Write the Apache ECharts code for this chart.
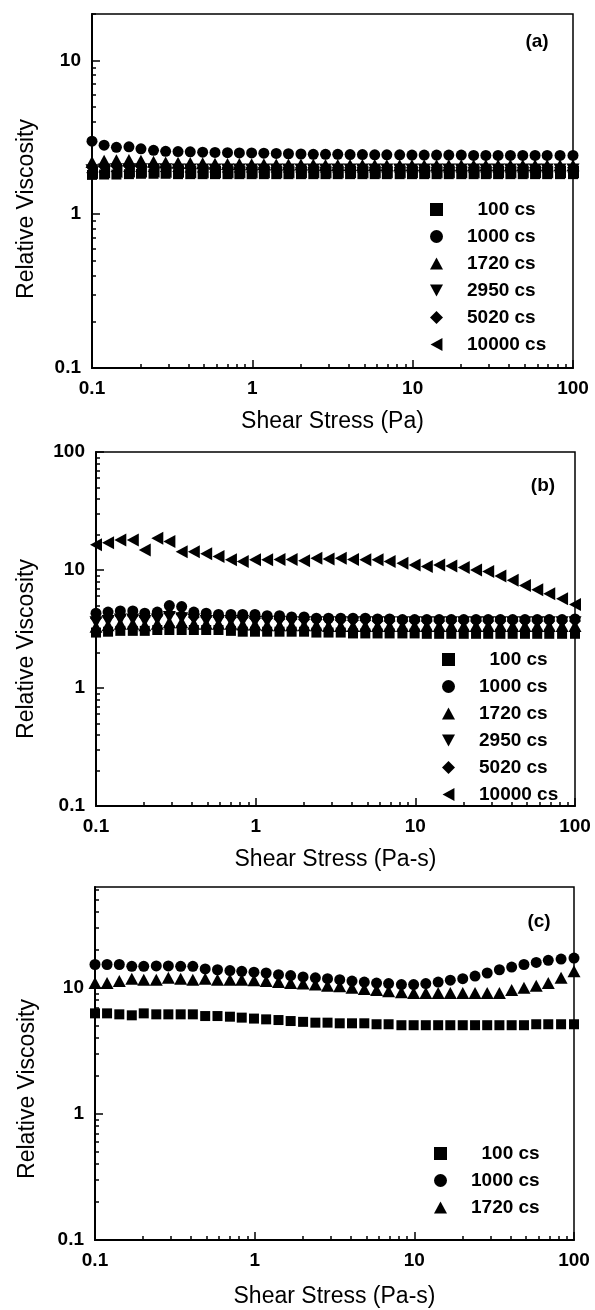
<!DOCTYPE html>
<html>
<head>
<meta charset="utf-8">
<title>Relative viscosity vs shear stress</title>
<script src="https://cdn.jsdelivr.net/npm/echarts@6/dist/echarts.min.js"></script>
<style>
  html, body { margin: 0; padding: 0; background: #fff; }
  #main { width: 595px; height: 1310px; }
</style>
</head>
<body>
<div id="main"></div>
<script>
// shear stress at each measurement point (same for all panels)
var stress = [0.1, 0.119, 0.142, 0.17, 0.202, 0.242, 0.288, 0.344, 0.41, 0.49,
  0.585, 0.70, 0.83, 0.99, 1.18, 1.41, 1.68, 2.01, 2.4, 2.86,
  3.41, 4.07, 4.86, 5.8, 6.9, 8.3, 9.9, 11.8, 14.1, 16.8,
  20.1, 24, 28.6, 34.1, 40.7, 48.6, 58, 69, 83, 100];

var majorTicks = [0.1, 1, 10, 100];
var minorTicks = [0.2, 0.3, 0.4, 0.5, 0.6, 0.7, 0.8, 0.9,
  2, 3, 4, 5, 6, 7, 8, 9, 20, 30, 40, 50, 60, 70, 80, 90];

var namesAB = ['100 cs', '1000 cs', '1720 cs', '2950 cs', '5020 cs', '10000 cs'];
var namesC = ['100 cs', '1000 cs', '1720 cs'];

// panel (a)
var a100 = [1.80, 1.81, 1.81, 1.82, 1.83, 1.83, 1.83, 1.82, 1.82, 1.82,
  1.82, 1.82, 1.82, 1.82, 1.82, 1.82, 1.82, 1.82, 1.82, 1.82,
  1.82, 1.82, 1.82, 1.82, 1.82, 1.82, 1.82, 1.82, 1.82, 1.82,
  1.82, 1.82, 1.82, 1.82, 1.82, 1.82, 1.82, 1.82, 1.82, 1.82];
var a1000 = [2.98, 2.81, 2.72, 2.74, 2.66, 2.60, 2.56, 2.55, 2.54, 2.53,
  2.52, 2.51, 2.50, 2.50, 2.49, 2.48, 2.47, 2.46, 2.45, 2.45,
  2.45, 2.44, 2.44, 2.43, 2.43, 2.43, 2.42, 2.42, 2.42, 2.42,
  2.42, 2.41, 2.41, 2.41, 2.41, 2.41, 2.41, 2.41, 2.41, 2.41];
var a1720 = [2.18, 2.22, 2.24, 2.25, 2.22, 2.19, 2.17, 2.16, 2.15, 2.14,
  2.13, 2.12, 2.12, 2.11, 2.11, 2.10, 2.10, 2.10, 2.10, 2.09,
  2.09, 2.09, 2.09, 2.09, 2.08, 2.08, 2.08, 2.08, 2.08, 2.08,
  2.08, 2.08, 2.08, 2.08, 2.08, 2.08, 2.08, 2.08, 2.08, 2.08];
var a2950 = [1.93, 1.95, 1.96, 1.96, 1.96, 1.96, 1.96, 1.95, 1.95, 1.95,
  1.95, 1.95, 1.95, 1.95, 1.95, 1.95, 1.95, 1.95, 1.95, 1.95,
  1.95, 1.95, 1.95, 1.95, 1.95, 1.95, 1.95, 1.95, 1.95, 1.95,
  1.95, 1.95, 1.95, 1.95, 1.95, 1.95, 1.95, 1.95, 1.95, 1.95];
var a5020 = [2.02, 2.04, 2.05, 2.05, 2.04, 2.03, 2.02, 2.02, 2.01, 2.01,
  2.01, 2.00, 2.00, 2.00, 2.00, 2.00, 2.00, 2.00, 2.00, 2.00,
  2.00, 2.00, 2.00, 2.00, 2.00, 2.00, 2.00, 2.00, 2.00, 2.00,
  2.00, 2.00, 2.00, 2.00, 2.00, 2.00, 2.00, 2.00, 2.00, 2.00];
var a10000 = [1.86, 1.88, 1.89, 1.90, 1.90, 1.90, 1.89, 1.89, 1.88, 1.88,
  1.88, 1.88, 1.88, 1.88, 1.88, 1.88, 1.88, 1.88, 1.88, 1.88,
  1.88, 1.88, 1.88, 1.88, 1.88, 1.88, 1.88, 1.88, 1.88, 1.88,
  1.88, 1.88, 1.88, 1.88, 1.88, 1.88, 1.88, 1.88, 1.88, 1.88];

// panel (b)
var b100 = [2.95, 3.0, 3.05, 3.05, 3.05, 3.1, 3.1, 3.1, 3.1, 3.1,
  3.1, 3.05, 3.0, 3.0, 3.0, 3.0, 3.0, 3.0, 2.95, 2.95,
  2.95, 2.9, 2.9, 2.9, 2.9, 2.9, 2.9, 2.88, 2.88, 2.88,
  2.88, 2.88, 2.88, 2.88, 2.88, 2.88, 2.88, 2.88, 2.88, 2.88];
var b1000 = [4.3, 4.4, 4.5, 4.5, 4.3, 4.4, 5.0, 4.9, 4.4, 4.3,
  4.2, 4.2, 4.2, 4.2, 4.1, 4.1, 4.0, 4.0, 3.9, 3.9,
  3.9, 3.9, 3.9, 3.85, 3.85, 3.8, 3.8, 3.8, 3.8, 3.8,
  3.8, 3.8, 3.8, 3.8, 3.8, 3.8, 3.8, 3.8, 3.8, 3.85];
var b1720 = [3.3, 3.4, 3.5, 3.5, 3.4, 3.5, 3.6, 3.6, 3.5, 3.5,
  3.5, 3.5, 3.45, 3.45, 3.4, 3.4, 3.4, 3.4, 3.4, 3.35,
  3.35, 3.35, 3.35, 3.35, 3.35, 3.35, 3.35, 3.35, 3.35, 3.35,
  3.35, 3.35, 3.35, 3.35, 3.35, 3.35, 3.35, 3.35, 3.35, 3.35];
var b2950 = [3.6, 3.7, 3.8, 3.8, 3.7, 3.8, 4.0, 3.9, 3.8, 3.7,
  3.7, 3.7, 3.7, 3.65, 3.65, 3.65, 3.6, 3.6, 3.6, 3.6,
  3.6, 3.6, 3.6, 3.6, 3.6, 3.6, 3.6, 3.6, 3.6, 3.6,
  3.6, 3.6, 3.6, 3.6, 3.6, 3.6, 3.6, 3.6, 3.6, 3.6];
var b5020 = [3.9, 4.0, 4.1, 4.1, 4.0, 4.1, 4.3, 4.2, 4.0, 4.0,
  4.0, 3.95, 3.95, 3.9, 3.9, 3.85, 3.85, 3.8, 3.8, 3.8,
  3.75, 3.75, 3.75, 3.7, 3.7, 3.7, 3.7, 3.7, 3.7, 3.7,
  3.7, 3.7, 3.7, 3.7, 3.7, 3.7, 3.7, 3.7, 3.7, 3.7];
var b10000 = [16.4, 17.0, 18.0, 18.0, 14.8, 18.6, 17.4, 14.3, 14.3, 13.7,
  13.0, 12.2, 11.8, 12.2, 12.2, 12.3, 12.3, 12.0, 12.6, 12.4,
  12.6, 12.3, 12.2, 12.2, 11.8, 11.4, 11.0, 10.7, 11.0, 10.8,
  10.5, 10.0, 9.7, 8.9, 8.2, 7.4, 6.8, 6.3, 5.7, 5.1];

// panel (c)
var c100 = [6.27, 6.27, 6.16, 6.05, 6.27, 6.16, 6.16, 6.16, 6.16, 5.97,
  5.97, 5.9, 5.8, 5.7, 5.62, 5.55, 5.45, 5.37, 5.29, 5.29,
  5.23, 5.23, 5.23, 5.14, 5.14, 5.05, 5.05, 5.05, 5.05, 5.05,
  5.05, 5.05, 5.05, 5.05, 5.05, 5.05, 5.14, 5.14, 5.14, 5.14];
var c1000 = [15.3, 15.3, 15.3, 14.8, 14.8, 14.9, 14.9, 14.8, 14.8, 14.1,
  13.9, 13.7, 13.5, 13.3, 13.1, 12.7, 12.5, 12.2, 12.0, 11.8,
  11.6, 11.3, 11.1, 10.9, 10.8, 10.6, 10.6, 10.8, 11.1, 11.5,
  11.8, 12.4, 13.1, 13.9, 14.6, 15.3, 15.9, 16.5, 16.9, 17.2];
var c1720 = [10.9, 10.9, 11.3, 11.8, 11.6, 11.6, 12.0, 11.8, 11.6, 11.8,
  11.6, 11.6, 11.6, 11.5, 11.3, 11.1, 10.9, 10.8, 10.6, 10.4,
  10.3, 10.0, 9.8, 9.6, 9.4, 9.2, 9.1, 9.1, 9.1, 9.1,
  9.1, 9.1, 9.1, 9.1, 9.6, 10.0, 10.4, 10.9, 12.0, 13.5];

var FONT = '"Liberation Sans", Arial, Helvetica, sans-serif';

// marker shapes; the down and left triangles get their own paths so the legend shows them right
var markers = {
  '100 cs': { symbol: 'rect', size: 10 },
  '1000 cs': { symbol: 'circle', size: 11 },
  '1720 cs': { symbol: 'path://M6,0L12,11L0,11Z', size: [13, 12] },
  '2950 cs': { symbol: 'path://M0,0L12,0L6,11Z', size: [13, 12] },
  '5020 cs': { symbol: 'diamond', size: 12 },
  '10000 cs': { symbol: 'path://M11,0L11,12L0,6Z', size: [12, 13] }
};

var panels = [
  { grid: { left: 92, top: 14, width: 481, height: 354 }, yMax: 20, xName: 'Shear Stress (Pa)', nameGap: 42,
    names: namesAB, values: [a100, a1000, a1720, a2950, a5020, a10000],
    tag: '(a)', tagPos: [537, 42], yTitlePos: [27, 209], legendPos: [425, 195] },
  { grid: { left: 96, top: 452, width: 479, height: 354 }, yMax: 100, xName: 'Shear Stress (Pa-s)', nameGap: 42,
    names: namesAB, values: [b100, b1000, b1720, b2950, b5020, b10000],
    tag: '(b)', tagPos: [543, 486], yTitlePos: [27, 649], legendPos: [437, 645] },
  { grid: { left: 95, top: 887, width: 479, height: 353 }, yMax: 63, xName: 'Shear Stress (Pa-s)', nameGap: 45,
    names: namesC, values: [c100, c1000, c1720],
    tag: '(c)', tagPos: [539, 922], yTitlePos: [28, 1089], legendPos: [429, 1139] }
];

function pairs(values) {
  return stress.map(function (x, i) { return [x, values[i]]; });
}

var tickLine = { color: '#000', width: 1.5 };
var grids = [], xAxes = [], yAxes = [], series = [], legends = [], graphics = [];

panels.forEach(function (p, gi) {
  grids.push(Object.assign({ show: true, borderColor: '#000', borderWidth: 1.5, outerBoundsMode: 'none' }, p.grid));

  xAxes[gi] = {
    type: 'log', logBase: 10, gridIndex: gi, min: 0.1, max: 100, position: 'bottom',
    name: p.xName, nameLocation: 'middle', nameGap: p.nameGap,
    nameTextStyle: { fontSize: 23, color: '#000', fontFamily: FONT },
    axisLine: { show: true, onZero: false, lineStyle: { color: '#000', width: 2 } },
    axisTick: { show: true, inside: true, length: 8, customValues: majorTicks, lineStyle: tickLine },
    axisLabel: { customValues: majorTicks, formatter: function (v) { return String(v); },
      fontSize: 19, fontWeight: 'bold', color: '#000', fontFamily: FONT, margin: 11 },
    splitLine: { show: false }
  };
  xAxes[gi + 3] = {
    type: 'log', logBase: 10, gridIndex: gi, min: 0.1, max: 100, position: 'bottom',
    axisLine: { show: false },
    axisTick: { show: true, inside: true, length: 4, customValues: minorTicks, lineStyle: tickLine },
    axisLabel: { show: false }, splitLine: { show: false }
  };

  var yMajor = majorTicks.filter(function (v) { return v <= p.yMax; });
  var yMinor = minorTicks.filter(function (v) { return v <= p.yMax; });
  yAxes[gi] = {
    type: 'log', logBase: 10, gridIndex: gi, min: 0.1, max: p.yMax, position: 'left',
    axisLine: { show: true, onZero: false, lineStyle: { color: '#000', width: 2 } },
    axisTick: { show: true, inside: true, length: 8, customValues: yMajor, lineStyle: tickLine },
    axisLabel: { customValues: yMajor, formatter: function (v) { return String(v); },
      fontSize: 19, fontWeight: 'bold', color: '#000', fontFamily: FONT, margin: 11 },
    splitLine: { show: false }
  };
  yAxes[gi + 3] = {
    type: 'log', logBase: 10, gridIndex: gi, min: 0.1, max: p.yMax, position: 'left',
    axisLine: { show: false },
    axisTick: { show: true, inside: true, length: 4, customValues: yMinor, lineStyle: tickLine },
    axisLabel: { show: false }, splitLine: { show: false }
  };

  p.names.forEach(function (name, k) {
    var m = markers[name];
    series.push({
      type: 'scatter', name: name, xAxisIndex: gi, yAxisIndex: gi,
      data: pairs(p.values[k]),
      symbol: m.symbol, symbolSize: m.size,
      itemStyle: { color: '#000', opacity: 1 },
      clip: false
    });
  });

  legends.push({
    orient: 'vertical', left: p.legendPos[0], top: p.legendPos[1],
    itemWidth: 13, itemHeight: 13, itemGap: 8, selectedMode: false,
    data: p.names.map(function (n) { return { name: n, icon: markers[n].symbol }; }),
    formatter: function (n) { return n === '100 cs' ? '  ' + n : n; },
    itemStyle: { color: '#000', opacity: 1 },
    textStyle: { fontSize: 19, fontWeight: 'bold', color: '#000', fontFamily: FONT, padding: [0, 0, 0, 19] }
  });

  graphics.push({
    type: 'text', x: p.tagPos[0], y: p.tagPos[1],
    style: { text: p.tag, fontSize: 19, fontWeight: 'bold', fontFamily: FONT, fill: '#000',
      align: 'center', verticalAlign: 'middle' }
  });
  graphics.push({
    type: 'text', x: p.yTitlePos[0], y: p.yTitlePos[1], rotation: Math.PI / 2,
    style: { text: 'Relative Viscosity', fontSize: 23, fontFamily: FONT, fill: '#000',
      align: 'center', verticalAlign: 'middle' }
  });
});

var chart = echarts.init(document.getElementById('main'), null, { renderer: 'canvas' });
chart.setOption({
  animation: false,
  backgroundColor: '#fff',
  grid: grids,
  xAxis: xAxes,
  yAxis: yAxes,
  legend: legends,
  graphic: graphics,
  series: series
});
</script>
</body>
</html>
